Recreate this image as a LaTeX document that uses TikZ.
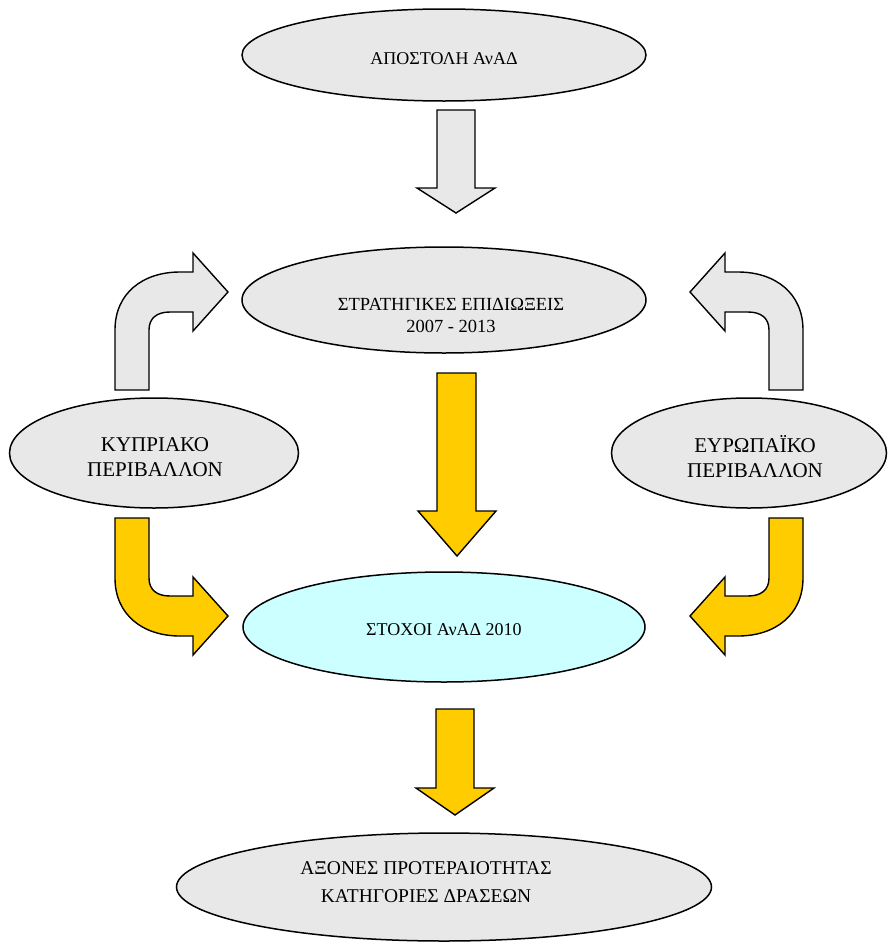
\documentclass[tikz,border=0pt]{standalone}
\usepackage{fontspec}
\setmainfont{Liberation Serif}
\usetikzlibrary{shapes.geometric}
\definecolor{boxgray}{HTML}{E8E8E8}
\definecolor{arrowyellow}{HTML}{FFCC00}
\definecolor{goalcyan}{HTML}{CCFFFF}
\tikzset{
  ovalbox/.style={ellipse, draw=black, line width=1.5pt, fill=boxgray, inner sep=0pt},
  ovaltext/.style={align=center, inner sep=0pt, font=\fontsize{18}{25}\selectfont},
  grayarrow/.style={draw=black, line width=1.4pt, fill=boxgray, line join=miter},
  yellowarrow/.style={draw=black, line width=1.4pt, fill=arrowyellow, line join=miter}
}
\begin{document}
\begin{tikzpicture}[x=1pt, y=-1pt]
\useasboundingbox (0,0) rectangle (888,943);
% ellipses
\node[ovalbox, minimum width=404pt, minimum height=92pt] (mission) at (444,55) {};
\node[ovalbox, minimum width=404pt, minimum height=106pt] (strat) at (444,300) {};
\node[ovalbox, minimum width=289pt, minimum height=110pt] (cy) at (154,453) {};
\node[ovalbox, minimum width=275pt, minimum height=110pt] (eu) at (749,453) {};
\node[ovalbox, fill=goalcyan, minimum width=402pt, minimum height=110pt] (goals) at (444,627) {};
\node[ovalbox, minimum width=535pt, minimum height=108pt] (axes) at (444,887) {};
% texts
\node[ovaltext] (tmission) at (444,59) {ΑΠΟΣΤΟΛΗ ΑνΑΔ};
\node[ovaltext, font=\fontsize{18.5}{22}\selectfont] (tstrat) at (451,315) {ΣΤΡΑΤΗΓΙΚΕΣ ΕΠΙΔΙΩΞΕΙΣ\\2007 - 2013};
\node[ovaltext, font=\fontsize{21}{25}\selectfont] (tcy) at (155,457) {ΚΥΠΡΙΑΚΟ\\ΠΕΡΙΒΑΛΛΟΝ};
\node[ovaltext, font=\fontsize{21}{25}\selectfont] (teu) at (755,457) {ΕΥΡΩΠΑΪΚΟ\\ΠΕΡΙΒΑΛΛΟΝ};
\node[ovaltext] (tgoals) at (444,630) {ΣΤΟΧΟΙ ΑνΑΔ 2010};
\node[ovaltext, font=\fontsize{19.5}{27.5}\selectfont] (taxes) at (426,882) {ΑΞΟΝΕΣ ΠΡΟΤΕΡΑΙΟΤΗΤΑΣ\\ΚΑΤΗΓΟΡΙΕΣ ΔΡΑΣΕΩΝ};
% straight arrows
\draw[grayarrow] (437,110) -- (475,110) -- (475,188) -- (495,188) -- (456,213) -- (417,188) -- (437,188) -- cycle;
\draw[yellowarrow] (437,373) -- (476,373) -- (476,511) -- (496,511) -- (457,556) -- (418,511) -- (437,511) -- cycle;
\draw[yellowarrow] (436,709) -- (474,709) -- (474,788) -- (494,788) -- (455,815) -- (416,788) -- (436,788) -- cycle;
% bent arrows
\draw[grayarrow] (115,390) -- (115,330) .. controls (115,293) and (143,272) .. (180,272) -- (193,272) -- (193,253) -- (228,292) -- (193,331) -- (193,312) -- (170,312) .. controls (157,312) and (149,318) .. (149,330) -- (149,390) -- cycle;
\draw[yellowarrow] (115,518) -- (115,578) .. controls (115,615) and (143,636) .. (180,636) -- (193,636) -- (193,655) -- (228,616) -- (193,577) -- (193,596) -- (170,596) .. controls (157,596) and (149,590) .. (149,578) -- (149,518) -- cycle;
\draw[grayarrow] (803,390) -- (803,330) .. controls (803,293) and (775,272) .. (738,272) -- (725,272) -- (725,253) -- (690,292) -- (725,331) -- (725,312) -- (748,312) .. controls (761,312) and (769,318) .. (769,330) -- (769,390) -- cycle;
\draw[yellowarrow] (803,518) -- (803,578) .. controls (803,615) and (775,636) .. (738,636) -- (725,636) -- (725,655) -- (690,616) -- (725,577) -- (725,596) -- (748,596) .. controls (761,596) and (769,590) .. (769,578) -- (769,518) -- cycle;
\end{tikzpicture}
\end{document}
